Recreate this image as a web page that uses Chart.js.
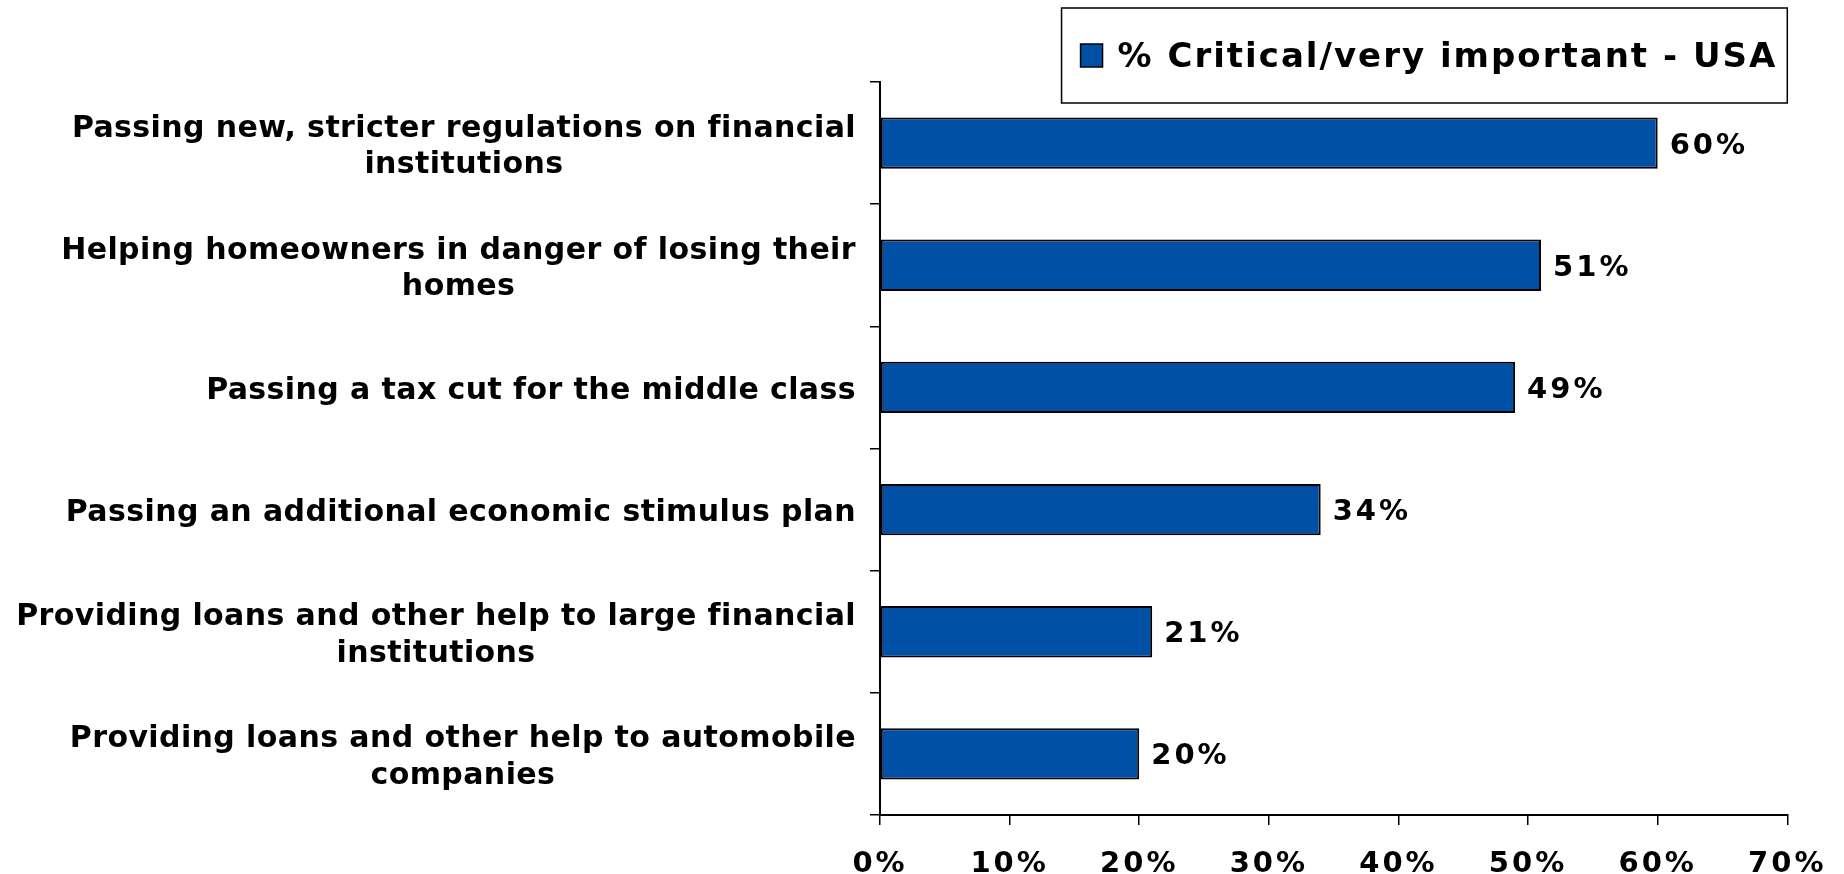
<!DOCTYPE html>
<html>
<head>
<meta charset="utf-8">
<script src="https://cdn.jsdelivr.net/npm/chart.js@4.4.0/dist/chart.umd.min.js"></script>
<style>
  html, body { margin: 0; padding: 0; background: #fff; }
  #wrap { width: 1844px; height: 874px; position: relative; }
</style>
</head>
<body>
<div id="wrap"><canvas id="chart"></canvas></div>
<script>
const categories = [
  ['Passing new, stricter regulations on financial', 'institutions'],
  ['Helping homeowners in danger of losing their', 'homes'],
  ['Passing a tax cut for the middle class'],
  ['Passing an additional economic stimulus plan'],
  ['Providing loans and other help to large financial', 'institutions'],
  ['Providing loans and other help to automobile', 'companies']
];
const seriesName = '% Critical/very important - USA';
const values = [60, 51, 49, 34, 21, 20];
const xTicks = [0, 10, 20, 30, 40, 50, 60, 70];

const BLUE = '#0051a6';
const FONT = '"DejaVu Sans", Verdana, sans-serif';

// category labels: block right-aligned to the axis, lines centred inside the block
const catLabels = {
  id: 'catLabels',
  afterDraw(chart) {
    const ctx = chart.ctx;
    const y = chart.scales.y;
    ctx.save();
    ctx.font = `bold 30px ${FONT}`;
    ctx.letterSpacing = '0.4px';
    ctx.fillStyle = '#000';
    ctx.textAlign = 'center';
    ctx.textBaseline = 'middle';
    const right = chart.chartArea.left - 24;
    const lh = 36.5;
    categories.forEach((lines, i) => {
      const w = Math.max(...lines.map(l => ctx.measureText(l).width));
      const cx = right - w / 2;
      const cy = y.getPixelForValue(i) + 4;
      lines.forEach((l, k) => {
        ctx.fillText(l, cx, cy + (k - (lines.length - 1) / 2) * lh);
      });
    });
    ctx.restore();
  }
};

const valueLabels = {
  id: 'valueLabels',
  afterDatasetsDraw(chart) {
    const ctx = chart.ctx;
    const meta = chart.getDatasetMeta(0);
    ctx.save();
    ctx.font = `bold 29px ${FONT}`;
    ctx.letterSpacing = '3px';
    ctx.fillStyle = '#000';
    ctx.textAlign = 'left';
    ctx.textBaseline = 'middle';
    meta.data.forEach((bar, i) => {
      ctx.fillText(values[i] + '%', bar.x + 12, bar.y + 3);
    });
    ctx.restore();
  }
};

const boxLegend = {
  id: 'boxLegend',
  beforeDraw(chart) {
    chart.ctx.letterSpacing = '3px';
  },
  afterDraw(chart) {
    const ctx = chart.ctx;
    ctx.save();
    ctx.font = `bold 34px ${FONT}`;
    ctx.letterSpacing = '2px';
    const tw = ctx.measureText(seriesName).width;
    const right = chart.chartArea.right;
    const left = right - 10 - tw - 37 - 19;
    const top = 8, h = 95;
    ctx.lineWidth = 1.5;
    ctx.strokeStyle = '#000';
    ctx.strokeRect(left, top, right - left, h);
    ctx.fillStyle = BLUE;
    ctx.fillRect(left + 19, 44, 22, 23);
    ctx.strokeRect(left + 19, 44, 22, 23);
    ctx.fillStyle = '#000';
    ctx.textAlign = 'left';
    ctx.textBaseline = 'middle';
    ctx.fillText(seriesName, left + 56, 58);
    ctx.restore();
  }
};

new Chart(document.getElementById('chart'), {
  type: 'bar',
  data: {
    labels: categories,
    datasets: [{
      label: seriesName,
      data: values,
      backgroundColor: BLUE,
      borderColor: '#000',
      borderWidth: 2,
      borderSkipped: false,
      barPercentage: 0.42,
      categoryPercentage: 1
    }]
  },
  options: {
    indexAxis: 'y',
    animation: false,
    responsive: true,
    maintainAspectRatio: false,
    layout: { padding: { top: 82, right: 56, left: 0, bottom: 0 } },
    plugins: {
      legend: { display: false },
      tooltip: { enabled: false }
    },
    scales: {
      y: {
        ticks: { display: false },
        grid: { offset: true, drawOnChartArea: false, tickLength: 10, color: '#000', lineWidth: 1.5 },
        border: { color: '#000', width: 2 },
        afterFit(s) { s.width = 880; }
      },
      x: {
        min: 0,
        max: 70,
        afterBuildTicks(s) { s.ticks = xTicks.map(v => ({ value: v })); },
        ticks: {
          callback: v => v + '%',
          color: '#000',
          font: { family: FONT, size: 29, weight: 'bold' },
          padding: 22,
          maxRotation: 0
        },
        grid: { drawOnChartArea: false, tickLength: 10, color: '#000', lineWidth: 1.5 },
        border: { color: '#000', width: 2 },
        afterFit(s) { s.height = 59; }
      }
    }
  },
  plugins: [catLabels, valueLabels, boxLegend]
});
</script>
</body>
</html>
